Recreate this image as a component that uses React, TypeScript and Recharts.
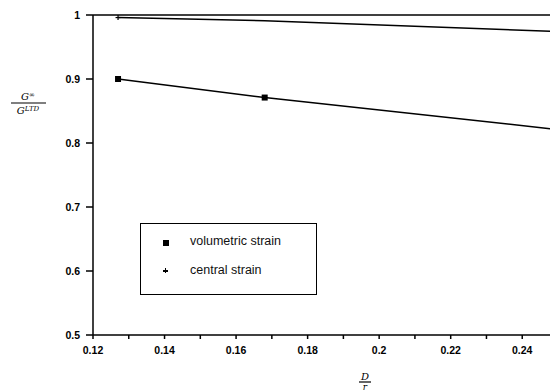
import {
  LineChart,
  Line,
  XAxis,
  YAxis,
  ReferenceLine,
} from "recharts";

// series
const volumetricX = [0.127, 0.168, 0.25];
const volumetricY = [0.9, 0.871, 0.821];
const volumetricMarked = [true, true, false];

const centralX = [0.127, 0.168, 0.25];
const centralY = [0.996, 0.991, 0.974];
const centralMarked = [true, false, false];

const seriesNames = ["volumetric strain", "central strain"];

// axes
const xTicks = [0.12, 0.13, 0.14, 0.15, 0.16, 0.17, 0.18, 0.19, 0.2, 0.21, 0.22, 0.23, 0.24];
const xTickLabels = ["0.12", "", "0.14", "", "0.16", "", "0.18", "", "0.2", "", "0.22", "", "0.24"];
const yTicks = [0.5, 0.6, 0.7, 0.8, 0.9, 1];
const yTickLabels = ["0.5", "0.6", "0.7", "0.8", "0.9", "1"];

const volumetricData = volumetricX.map((x, i) => ({ x, y: volumetricY[i], mark: volumetricMarked[i] }));
const centralData = centralX.map((x, i) => ({ x, y: centralY[i], mark: centralMarked[i] }));

const FONT = "'Liberation Sans', Arial, sans-serif";

const SquareDot = (props: any) => {
  const { cx, cy, payload, index } = props;
  if (!payload || !payload.mark) return <g key={index} />;
  return <rect key={index} x={cx - 3} y={cy - 3} width={6} height={6} fill="#000" />;
};

const PlusDot = (props: any) => {
  const { cx, cy, payload, index } = props;
  if (!payload || !payload.mark) return <g key={index} />;
  return (
    <g key={index}>
      <line x1={cx - 2.5} y1={cy} x2={cx + 2.5} y2={cy} stroke="#000" strokeWidth={1.2} />
      <line x1={cx} y1={cy - 2.5} x2={cx} y2={cy + 2.5} stroke="#000" strokeWidth={1.2} />
    </g>
  );
};

// legend box drawn over the plot, like the original figure
const LegendBox = () => (
  <div
    style={{
      position: "absolute",
      left: 132,
      top: 215,
      width: 177,
      height: 72,
      border: "1.5px solid #000",
      boxSizing: "border-box",
      fontFamily: FONT,
      fontSize: 12.5,
      color: "#111",
      background: "#fff",
    }}
  >
    <div style={{ position: "absolute", left: 22, top: 16, width: 6, height: 6, background: "#000" }} />
    <div style={{ position: "absolute", left: 49, top: 10, lineHeight: "15px" }}>{seriesNames[0]}</div>
    <div style={{ position: "absolute", left: 22, top: 46, width: 5, height: 1.5, background: "#000" }} />
    <div style={{ position: "absolute", left: 23.8, top: 44, width: 1.5, height: 5, background: "#000" }} />
    <div style={{ position: "absolute", left: 49, top: 39, lineHeight: "15px" }}>{seriesNames[1]}</div>
  </div>
);

const YLabel = () => (
  <g fontFamily="'DejaVu Serif', serif" fontStyle="italic" fill="#000">
    <text x={20} y={92} textAnchor="middle" fontSize={10}>
      G<tspan dy={-3} fontSize={7}>∞</tspan>
    </text>
    <line x1={3} y1={95} x2={38} y2={95} stroke="#000" strokeWidth={1.2} />
    <text x={20} y={106} textAnchor="middle" fontSize={10}>
      G<tspan dy={-3} fontSize={7}>LTD</tspan>
    </text>
  </g>
);

const XLabel = () => (
  <g fontFamily="'DejaVu Serif', serif" fontStyle="italic" fill="#000">
    <text x={357} y={372} textAnchor="middle" fontSize={10}>
      D
    </text>
    <line x1={351} y1={374} x2={363} y2={374} stroke="#000" strokeWidth={1.2} />
    <text x={357} y={382} textAnchor="middle" fontSize={9}>
      r
    </text>
  </g>
);

const App = () => {
  return (
    <div style={{ width: 550, height: 384, position: "relative" }}>
      <LineChart
        width={550}
        height={384}
        margin={{ top: 7, right: 0, bottom: 27, left: 0 }}
      >
        <XAxis
          dataKey="x"
          type="number"
          domain={[0.12, 0.25]}
          ticks={xTicks}
          tickFormatter={(v: number) => xTickLabels[xTicks.findIndex((t) => Math.abs(t - v) < 1e-9)] ?? ""}
          interval={0}
          allowDataOverflow
          height={30}
          stroke="#000"
          strokeWidth={1.5}
          tickSize={4}
          tickMargin={8}
          tick={{ fill: "#000", fontSize: 10.5, fontWeight: "bold", fontFamily: FONT }}
        />
        <YAxis
          dataKey="y"
          type="number"
          domain={[0.5, 1]}
          ticks={yTicks}
          tickFormatter={(v: number) => yTickLabels[yTicks.findIndex((t) => Math.abs(t - v) < 1e-9)] ?? ""}
          interval={0}
          width={85}
          stroke="#000"
          strokeWidth={1.5}
          tickSize={7}
          tickMargin={6}
          tick={{ fill: "#000", fontSize: 10.5, fontWeight: "bold", fontFamily: FONT }}
        />
        <ReferenceLine y={1} stroke="#000" strokeWidth={1.5} />
        <Line
          data={volumetricData}
          dataKey="y"
          name={seriesNames[0]}
          stroke="#000"
          strokeWidth={1.5}
          dot={<SquareDot />}
          activeDot={false}
          isAnimationActive={false}
        />
        <Line
          data={centralData}
          dataKey="y"
          name={seriesNames[1]}
          stroke="#000"
          strokeWidth={1.5}
          dot={<PlusDot />}
          activeDot={false}
          isAnimationActive={false}
        />
        <YLabel />
        <XLabel />
      </LineChart>
      <LegendBox />
    </div>
  );
};

export default App;
